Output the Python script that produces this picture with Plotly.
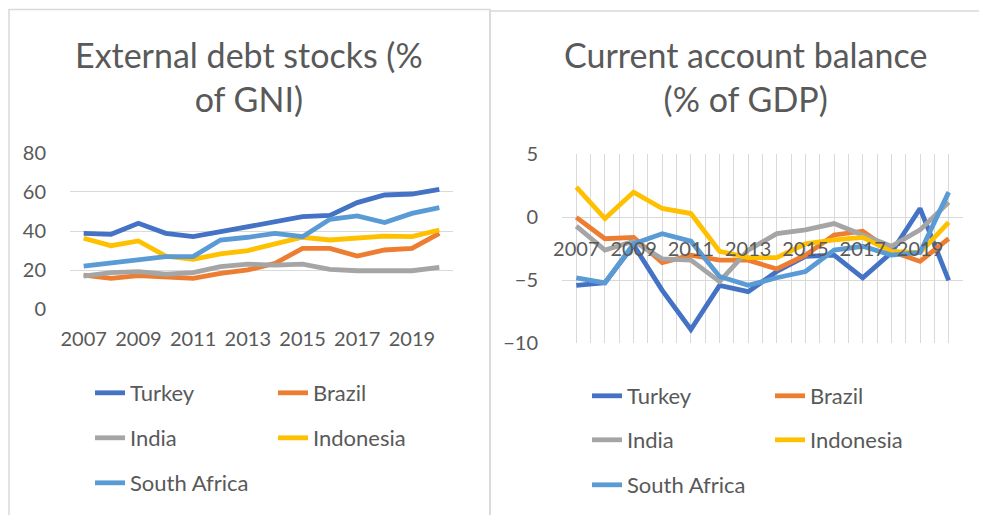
import plotly.graph_objects as go
from plotly.subplots import make_subplots

years = list(range(2007, 2021))
countries = ['Turkey', 'Brazil', 'India', 'Indonesia', 'South Africa']
colors = ['#4472C4', '#ED7D31', '#A5A5A5', '#FFC000', '#5B9BD5']

# External debt stocks (% of GNI)
debt_turkey = [38.8, 38.3, 43.9, 38.8, 37.1, 39.7, 42.2, 44.8, 47.3, 48.0, 54.5, 58.4, 58.9, 61.3]
debt_brazil = [17.5, 15.8, 17.2, 16.3, 15.8, 18.4, 20.1, 23.5, 31.1, 31.1, 27.2, 30.3, 31.1, 38.8]
debt_india = [17.0, 18.7, 19.2, 17.9, 18.7, 21.8, 23.1, 22.6, 23.1, 20.4, 19.7, 19.6, 19.7, 21.4]
debt_indonesia = [36.3, 32.5, 34.9, 27.2, 25.5, 28.3, 30.0, 33.7, 36.8, 35.4, 36.3, 37.4, 37.1, 40.5]
debt_safrica = [22.1, 23.8, 25.2, 26.9, 26.9, 35.4, 36.8, 38.8, 37.1, 46.0, 47.7, 44.3, 49.0, 51.9]

# Current account balance (% of GDP)
ca_turkey = [-5.4, -5.2, -2.2, -5.8, -8.9, -5.4, -5.9, -4.3, -3.1, -3.0, -4.8, -2.8, 0.7, -5.0]
ca_brazil = [0.0, -1.7, -1.6, -3.6, -3.0, -3.4, -3.4, -4.1, -3.0, -1.4, -1.1, -2.7, -3.5, -1.7]
ca_india = [-0.7, -2.6, -1.9, -3.3, -3.4, -5.1, -2.6, -1.3, -1.0, -0.5, -1.4, -2.3, -1.0, 1.2]
ca_indonesia = [2.4, -0.1, 2.0, 0.7, 0.3, -2.7, -3.2, -3.2, -2.1, -1.8, -1.6, -2.7, -2.8, -0.4]
ca_safrica = [-4.8, -5.2, -2.1, -1.3, -1.9, -4.7, -5.4, -4.8, -4.3, -2.6, -2.3, -3.0, -2.8, 2.0]

debt = [debt_turkey, debt_brazil, debt_india, debt_indonesia, debt_safrica]
ca = [ca_turkey, ca_brazil, ca_india, ca_indonesia, ca_safrica]

FONT = 'Lato'
GREY = '#595959'
GRID = '#D9D9D9'
W, H = 987, 515
OFF = 8  # page body margin


def px(x):
    return (x - OFF) / W


def py(y):
    return 1 - (y - OFF) / H


fig = make_subplots(rows=1, cols=2)

# legend rows: Turkey/Brazil, India/Indonesia, South Africa
left_leg = ['legend', 'legend', 'legend2', 'legend2', 'legend3']
right_leg = ['legend4', 'legend4', 'legend5', 'legend5', 'legend6']

for i, c in enumerate(countries):
    fig.add_trace(go.Scatter(x=years, y=debt[i], name=c, mode='lines',
                             line=dict(color=colors[i], width=4.8),
                             legend=left_leg[i]), row=1, col=1)
for i, c in enumerate(countries):
    fig.add_trace(go.Scatter(x=years, y=ca[i], name=c, mode='lines',
                             line=dict(color=colors[i], width=4.8),
                             legend=right_leg[i]), row=1, col=2)

tickfont = dict(family=FONT, size=20, color=GREY)

y1_bot, y1_top = py(309.3), py(152.7)
y2_bot, y2_top = py(343.3), py(154.3)
zero_pos = y2_bot + (y2_top - y2_bot) * 10 / 15

fig.update_layout(
    width=W, height=H,
    margin=dict(l=0, r=0, t=0, b=0, autoexpand=False),
    paper_bgcolor='white', plot_bgcolor='white',
    xaxis=dict(domain=[px(70), px(453)], range=[2006.5, 2020.5],
               tick0=2007, dtick=2, showgrid=False, zeroline=False,
               showline=False, tickfont=tickfont, ticks='',
               ticklabelstandoff=16),
    yaxis=dict(domain=[y1_bot, y1_top], range=[0, 80], dtick=20,
               showgrid=True, gridcolor=GRID, gridwidth=1.3, zeroline=False,
               tickfont=tickfont, ticklabelstandoff=23),
    xaxis2=dict(domain=[px(562), px(963)], range=[2006.5, 2020.5],
                tick0=2007, dtick=2, anchor='free', position=zero_pos,
                showgrid=True, gridcolor=GRID, gridwidth=1.3,
                minor=dict(tick0=2006.5, dtick=0.5, showgrid=True,
                           gridcolor=GRID, gridwidth=1.3),
                zeroline=False, showline=False, tickfont=tickfont,
                ticks='', ticklabelstandoff=18),
    yaxis2=dict(domain=[y2_bot, y2_top], range=[-10, 5], dtick=5,
                showgrid=True, gridcolor=GRID, gridwidth=1.3, zeroline=False,
                tickfont=tickfont, ticklabelstandoff=23),
    showlegend=True,
)

legfont = dict(family=FONT, size=22, color=GREY)
leg_common = dict(orientation='h', xanchor='left', yanchor='middle',
                  font=legfont, entrywidth=138, bgcolor='rgba(0,0,0,0)',
                  itemwidth=30)
fig.update_layout(
    legend=dict(x=px(90), y=py(393), **leg_common),
    legend2=dict(x=px(90), y=py(438), **leg_common),
    legend3=dict(x=px(90), y=py(483), **leg_common),
    legend4=dict(x=px(587), y=py(396), **leg_common),
    legend5=dict(x=px(587), y=py(440), **leg_common),
    legend6=dict(x=px(587), y=py(485), **leg_common),
)

# chart titles
title_font = dict(family=FONT, size=34, color=GREY)
fig.add_annotation(text='External debt stocks (%<br>of GNI)', x=px(249), y=py(77),
                   xref='paper', yref='paper', showarrow=False,
                   xanchor='center', yanchor='middle', font=title_font)
fig.add_annotation(text='Current account balance<br>(% of GDP)', x=px(745), y=py(77),
                   xref='paper', yref='paper', showarrow=False,
                   xanchor='center', yanchor='middle', font=title_font)

# chart frames
fig.add_shape(type='rect', xref='paper', yref='paper',
              x0=px(9), x1=px(490), y0=-0.05, y1=py(9.5),
              line=dict(color='#D9D9D9', width=1.5), layer='below')
fig.add_shape(type='rect', xref='paper', yref='paper',
              x0=px(490), x1=1.05, y0=-0.05, y1=py(11),
              line=dict(color='#D9D9D9', width=1.5), layer='below')

fig.write_html("out.html")
